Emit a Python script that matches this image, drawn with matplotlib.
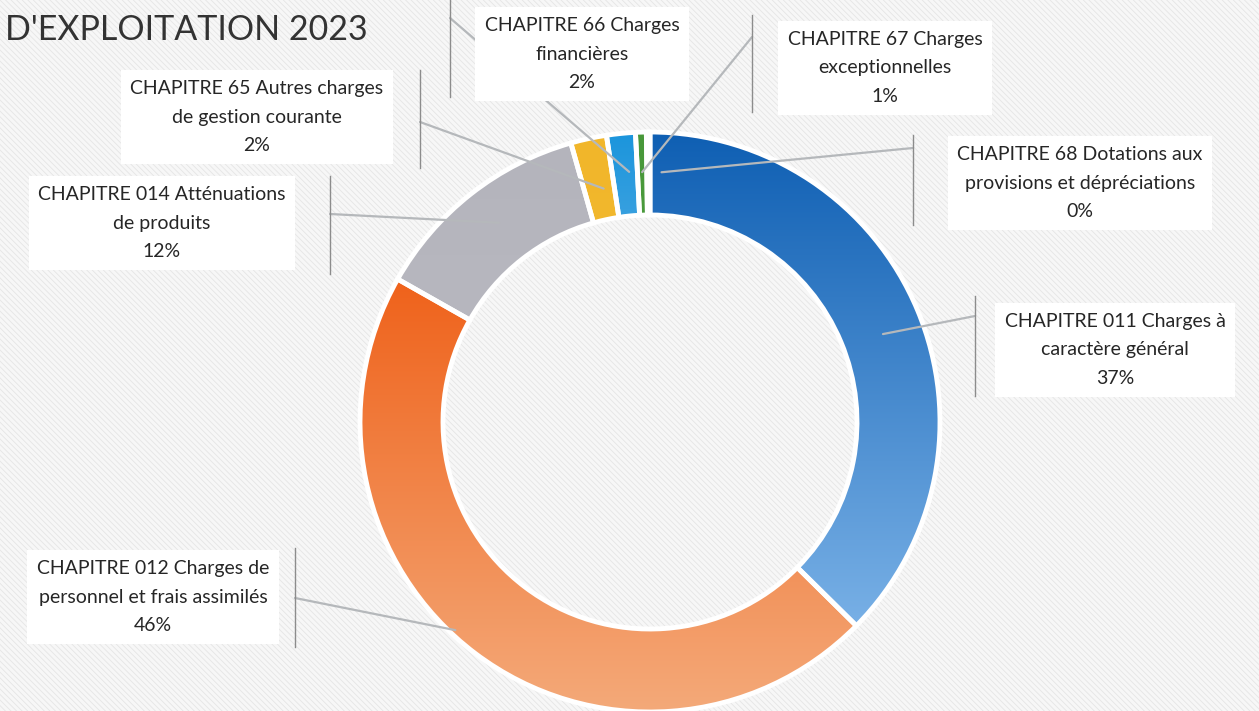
import matplotlib.pyplot as plt
import matplotlib.patches as mpatches
import matplotlib.colors as mcolors
import numpy as np

plt.rcParams['font.family'] = ['Lato', 'DejaVu Sans']
plt.rcParams['hatch.linewidth'] = 0.6

# data (percent of operating expenses)
categories = ['CHAPITRE 011 Charges à\ncaractère général',
              'CHAPITRE 012 Charges de\npersonnel et frais assimilés',
              'CHAPITRE 014 Atténuations\nde produits',
              'CHAPITRE 65 Autres charges\nde gestion courante',
              'CHAPITRE 66 Charges\nfinancières',
              'CHAPITRE 67 Charges\nexceptionnelles',
              'CHAPITRE 68 Dotations aux\nprovisions et dépréciations']
values = [37.4, 45.8, 12.4, 2.0, 1.6, 0.6, 0.2]

# gradient colours (top, bottom) per slice
col_top = ['#0f5fb3', '#ef621b', '#b4b4bc', '#f1b62a', '#1b95dc', '#48983a', '#2e75b6']
col_bot = ['#78b0e6', '#f4aa7a', '#b9b9c1', '#f2bb33', '#7dbbe8', '#4f9e3e', '#2e75b6']

# label layout, in pixels: text centre, leader end, box edge line, leader start (radius, angle shift)
txt_xy = [(1115, 350), (153, 597), (162, 223), (257, 117), (582, 54), (885, 68), (1080, 183)]
lead_end = [(975, 316), (295, 598), (330, 214), (420, 122), (450, 18), (752, 37), (913, 148)]
edge_y = [(296, 396), (548, 647), (176, 274), (70, 168), (0, 97), (15, 112), (135, 225)]
lead_r = [249, 285, 250, 238, 251, 250, 250]
lead_shift = [2, 6, 1, 1, 1, 0, 3]

W, H = 1259, 711
cx, cy, R, ring = 650, 422, 290, 83

fig = plt.figure(figsize=(W / 100, H / 100), dpi=100)
ax = fig.add_axes([0, 0, 1, 1])

# scanned paper look
bg = mpatches.Rectangle((0, 0), W, H, facecolor='#f7f7f7', edgecolor='#e5e5e5',
                        hatch='\\\\\\\\\\\\', lw=0, zorder=0)
ax.add_patch(bg)

# y axis is inverted (pixel coords) -> counterclock + startangle -90 = clockwise from top
wedges, _ = ax.pie(values, center=(cx, cy), radius=R, startangle=-90, counterclock=True,
                   wedgeprops=dict(width=ring, edgecolor='white', linewidth=3.5))

ax.set_xlim(0, W)
ax.set_ylim(H, 0)
ax.set_aspect('equal')
ax.axis('off')

# vertical gradient fill inside every wedge
for w, ct, cb in zip(wedges, col_top, col_bot):
    verts = w.get_path().vertices
    y0, y1 = verts[:, 1].min(), verts[:, 1].max()
    x0, x1 = verts[:, 0].min(), verts[:, 0].max()
    t = np.linspace(0, 1, 200)[:, None]
    c0 = np.array(mcolors.to_rgb(ct))
    c1 = np.array(mcolors.to_rgb(cb))
    img = (c0[None, None, :] * (1 - t[..., None]) + c1[None, None, :] * t[..., None])
    img = np.repeat(img, 2, axis=1)
    w.set_facecolor('none')
    im = ax.imshow(img, extent=(x0, x1, y1, y0), origin='upper', aspect='auto',
                   zorder=w.get_zorder() - 0.1, interpolation='bilinear')
    im.set_clip_path(w)
    w.set_zorder(2)

# labels and leader lines
total = sum(values)
cum = 0
for i, (cat, v) in enumerate(zip(categories, values)):
    mid = (cum + v / 2) / total * 2 * np.pi + np.radians(lead_shift[i])
    cum += v
    sx = cx + lead_r[i] * np.sin(mid)
    sy = cy - lead_r[i] * np.cos(mid)
    ex, ey = lead_end[i]
    ax.plot([sx, ex], [sy, ey], color='#b5b8bb', lw=1.6, zorder=4, solid_capstyle='round')
    ax.plot([ex, ex], edge_y[i], color='#8c8c8c', lw=1.0, zorder=4)
    tx, ty = txt_xy[i]
    ax.text(tx, ty, f'{cat}\n{v:.0f}%', ha='center', va='center', fontsize=14,
            color='#262626', linespacing=1.85, zorder=5,
            bbox=dict(boxstyle='square,pad=0.5', facecolor='white', edgecolor='none'))

ax.text(5, 30, "D'EXPLOITATION 2023", ha='left', va='center', fontsize=24.5,
        color='#333333', zorder=5)

fig.savefig('out.png', dpi=100)
